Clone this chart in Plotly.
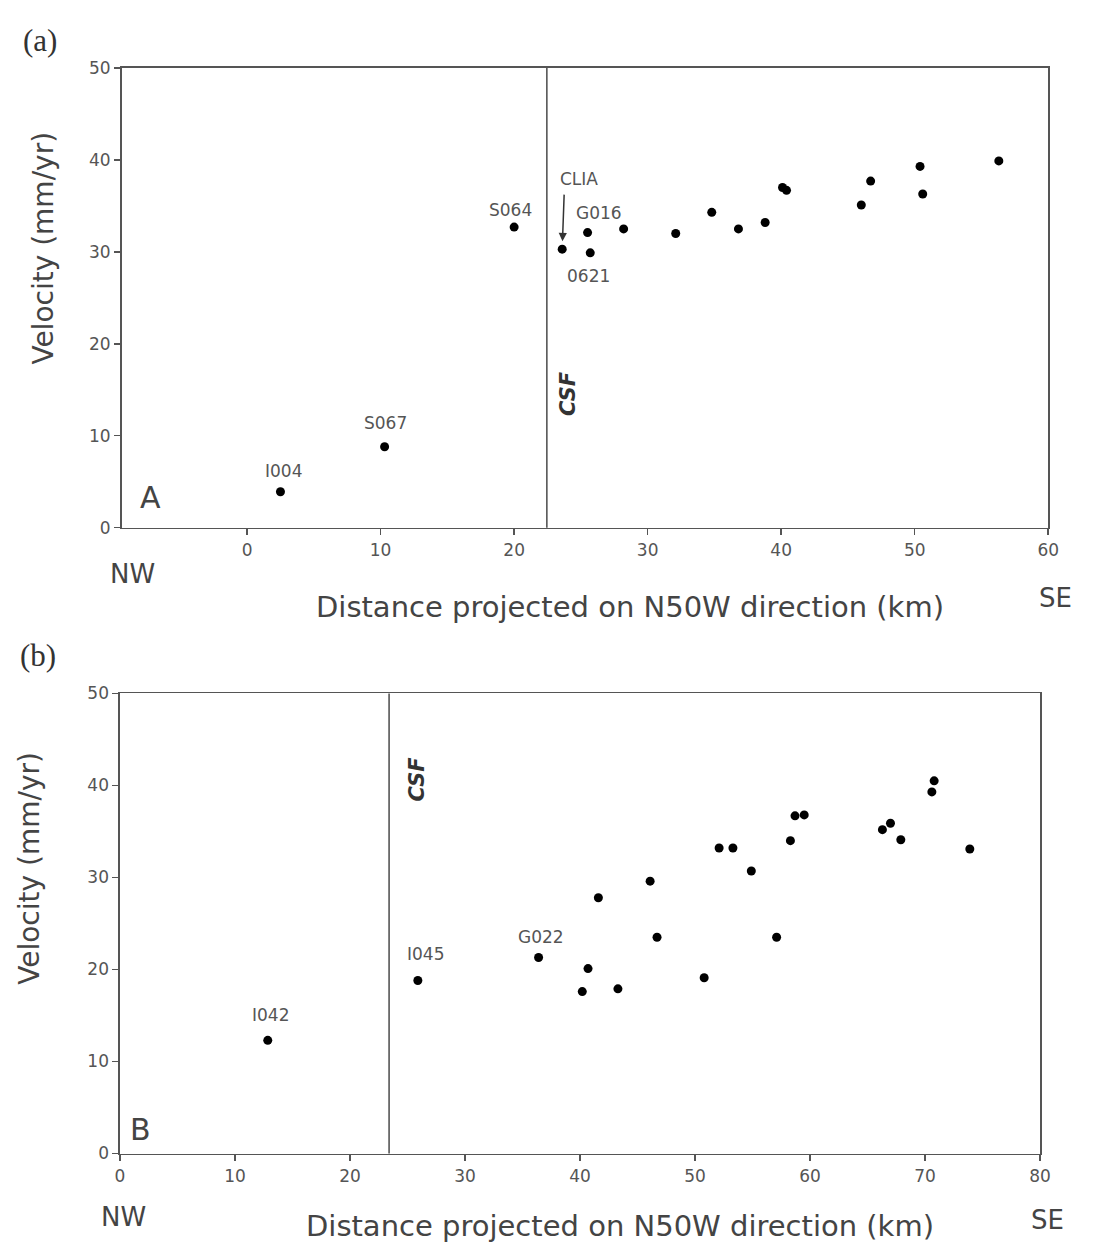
import plotly.graph_objects as go

W, H = 1095, 1258

# ---------------- data ----------------
# Panel (a)
a_dist = [2.5, 10.3, 20.0, 23.6, 25.5, 25.7, 28.2, 32.1, 34.8, 36.8, 38.8,
          40.1, 40.4, 46.0, 46.7, 50.4, 50.6, 56.3]
a_vel = [3.9, 8.8, 32.7, 30.3, 32.1, 29.9, 32.5, 32.0, 34.3, 32.5, 33.2,
         37.0, 36.7, 35.1, 37.7, 39.3, 36.3, 39.9]
a_names = ["I004", "S067", "S064", "CLIA", "G016", "0621", "", "", "", "", "",
           "", "", "", "", "", "", ""]
a_csf = 22.45

# Panel (b)
b_dist = [12.85, 25.9, 36.4, 40.7, 40.2, 43.3, 41.6, 46.1, 46.7, 50.8, 52.1,
          53.3, 54.9, 57.1, 58.3, 58.7, 59.5, 66.3, 67.0, 67.9, 70.6, 70.8, 73.9]
b_vel = [12.3, 18.8, 21.3, 20.1, 17.6, 17.9, 27.8, 29.6, 23.5, 19.1, 33.2,
         33.2, 30.7, 23.5, 34.0, 36.7, 36.8, 35.2, 35.9, 34.1, 39.3, 40.5, 33.1]
b_names = ["I042", "I045", "G022"] + [""] * 20
b_csf = 23.4

x_title = "Distance projected on N50W direction (km)"
y_title = "Velocity (mm/yr)"
a_xticks = [0, 10, 20, 30, 40, 50, 60]
b_xticks = [0, 10, 20, 30, 40, 50, 60, 70, 80]
yticks = [0, 10, 20, 30, 40, 50]

# ---------------- style ----------------
SANS = "DejaVu Sans"
SERIF = "Liberation Serif"
TXT = "#555555"
AX = "#555555"

# label offsets in pixels (xshift, yshift)
label_off = {"I004": (3, 21), "S067": (1, 24), "S064": (-4, 17), "CLIA": (17, 70),
             "G016": (11, 20), "0621": (-2, -23),
             "I042": (3, 25), "I045": (8, 27), "G022": (2, 21)}


def px(x):
    return x / W


def py(y):
    return 1 - y / H


fig = go.Figure()
fig.add_trace(go.Scatter(x=a_dist, y=a_vel, mode="markers", xaxis="x", yaxis="y",
                         marker=dict(color="black", size=9), showlegend=False))
fig.add_trace(go.Scatter(x=b_dist, y=b_vel, mode="markers", xaxis="x2", yaxis="y2",
                         marker=dict(color="black", size=9), showlegend=False))

axis_common = dict(showline=True, linecolor=AX, linewidth=1.6, mirror=True,
                   showgrid=False, zeroline=False, ticks="outside", ticklen=6,
                   tickwidth=1.5, tickcolor=AX,
                   tickfont=dict(family=SANS, size=17, color=TXT))

fig.update_layout(
    width=W, height=H,
    margin=dict(l=0, r=0, t=0, b=0),
    paper_bgcolor="white", plot_bgcolor="white",
    xaxis=dict(domain=[px(118.3), px(1058.7)], range=[-9.4, 60], anchor="y",
               tickvals=a_xticks, **axis_common),
    yaxis=dict(domain=[py(526), py(59)], range=[0, 50], anchor="x",
               tickvals=yticks, **axis_common),
    xaxis2=dict(domain=[px(116.7), px(1050.3)], range=[0, 80], anchor="y2",
                tickvals=b_xticks, **axis_common),
    yaxis2=dict(domain=[py(1162), py(694.5)], range=[0, 50], anchor="x2",
                tickvals=yticks, **axis_common),
)

# CSF lines
fig.add_shape(type="line", xref="x", yref="y domain", x0=a_csf, x1=a_csf, y0=0, y1=1,
              line=dict(color=AX, width=1.6))
fig.add_shape(type="line", xref="x2", yref="y2 domain", x0=b_csf, x1=b_csf, y0=0, y1=1,
              line=dict(color=AX, width=1.6))

ann = []
# station labels
for xs, ys, ns, xr, yr in [(a_dist, a_vel, a_names, "x", "y"),
                           (b_dist, b_vel, b_names, "x2", "y2")]:
    for xv, yv, n in zip(xs, ys, ns):
        if not n:
            continue
        dx, dy = label_off[n]
        ann.append(dict(x=xv, y=yv, xref=xr, yref=yr, text=n, showarrow=False,
                        xshift=dx, yshift=dy, xanchor="center", yanchor="middle",
                        font=dict(family=SANS, size=17, color=TXT)))
        if n == "CLIA":
            ann.append(dict(x=xv, y=yv, xref=xr, yref=yr, text="", showarrow=True,
                            ax=2, ay=-56, standoff=8, arrowhead=2, arrowsize=1.1,
                            arrowwidth=1.5, arrowcolor="#333333"))


def pa(text, x, y, size, family=SANS, color="#444444", angle=0):
    ann.append(dict(x=px(x), y=py(y), xref="paper", yref="paper", text=text,
                    showarrow=False, textangle=angle, xanchor="center",
                    yanchor="middle",
                    font=dict(family=family, size=size, color=color)))


# CSF labels
pa("<b><i>CSF</i></b>", 571.5, 390, 21, color="#333333", angle=-90)
pa("<b><i>CSF</i></b>", 418, 781, 21, color="#333333", angle=-90)

# panel letters and labels
pa("(a)", 36, 31, 31, family=SERIF, color="#333333")
pa("(b)", 33, 656, 31, family=SERIF, color="#333333")
pa("A", 148, 495, 30)
pa("B", 138, 1138, 30)
pa("NW", 129, 573, 26)
pa("SE", 1066, 597, 26)
pa("NW", 120, 1226, 26)
pa("SE", 1058, 1230, 26)
pa(x_title, 634, 607, 29)
pa(x_title, 624, 1236, 29)
pa(y_title, 39, 242, 28, angle=-90)
pa(y_title, 25, 872, 28, angle=-90)

fig.update_layout(annotations=ann)

# pin the plot to the top-left corner of the page so that it fills the window exactly
pin = ("var d=document.getElementById('{plot_id}');"
       "d.style.position='fixed';d.style.left='0px';d.style.top='0px';"
       "document.body.style.margin='0';")
fig.write_html("out.html", post_script=pin,
               config={"displayModeBar": False, "staticPlot": True})
